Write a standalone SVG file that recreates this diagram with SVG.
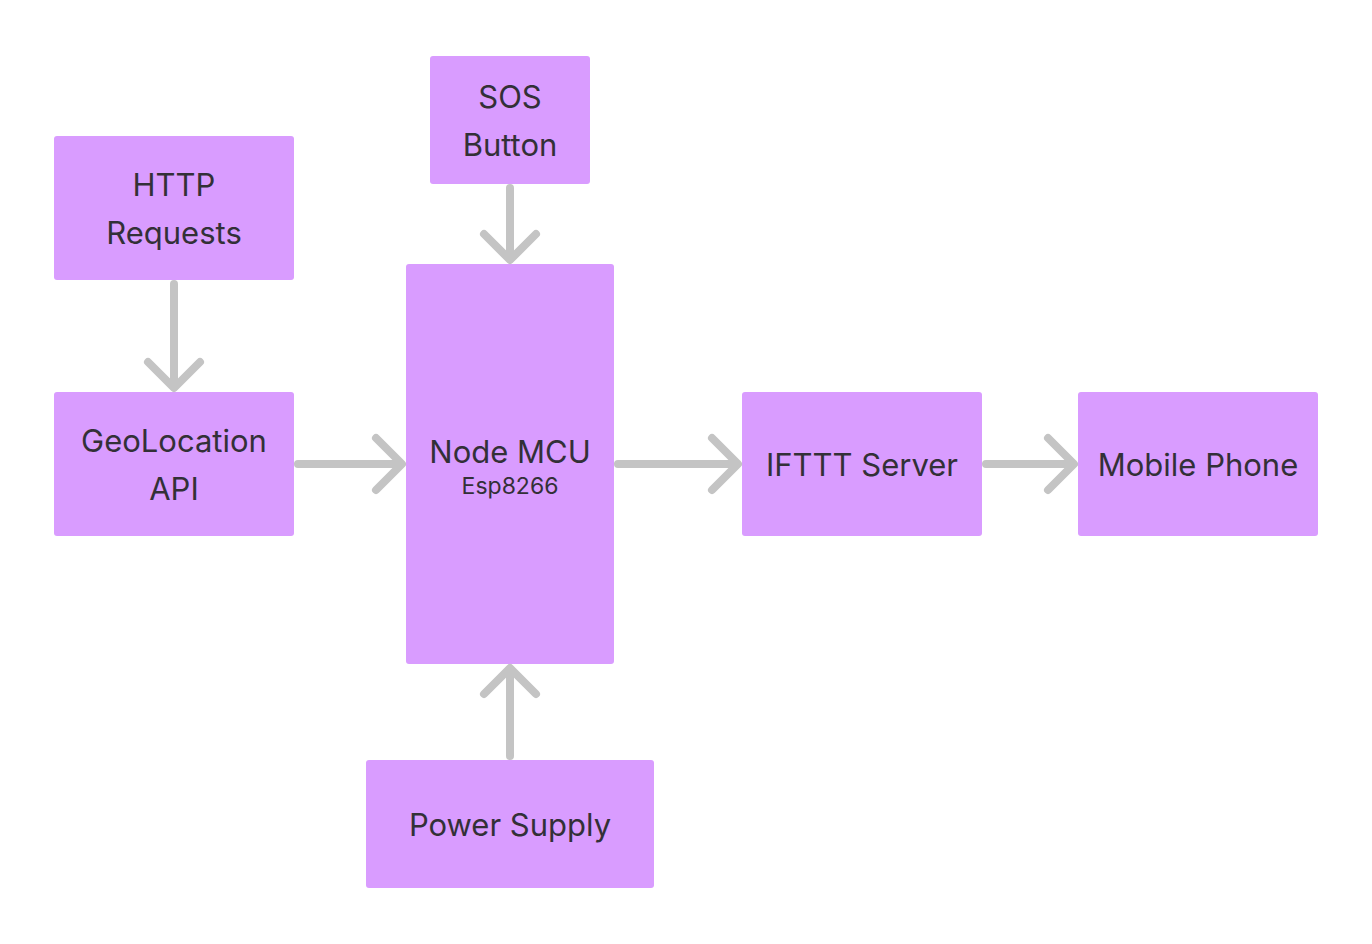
<svg xmlns="http://www.w3.org/2000/svg" width="1372" height="944" viewBox="0 0 1372 944">
<style>
.box{fill:#d99cff;}
.t{font-family:Inter,"Noto Sans",sans-serif;font-size:31px;fill:#333037;text-anchor:middle;}
.s{font-family:Inter,"Noto Sans",sans-serif;font-size:23px;fill:#333037;text-anchor:middle;}
.c{stroke:#c4c4c4;stroke-width:8;fill:none;stroke-linecap:round;stroke-linejoin:round;}
</style>
<rect width="1372" height="944" fill="#ffffff"/>
<g id="sos"><rect class="box" x="430" y="56" width="160" height="128" rx="3"/><text class="t" x="510" y="108">SOS</text><text class="t" x="510" y="156">Button</text></g>
<g id="http"><rect class="box" x="54" y="136" width="240" height="144" rx="3"/><text class="t" x="174" y="196">HTTP</text><text class="t" x="174" y="244">Requests</text></g>
<g id="geo"><rect class="box" x="54" y="392" width="240" height="144" rx="3"/><text class="t" x="174" y="452">GeoLocation</text><text class="t" x="174" y="500">API</text></g>
<g id="node"><rect class="box" x="406" y="264" width="208" height="400" rx="3"/><text class="t" x="510" y="463">Node MCU</text><text class="s" x="510" y="494">Esp8266</text></g>
<g id="ifttt"><rect class="box" x="742" y="392" width="240" height="144" rx="3"/><text class="t" x="862" y="476">IFTTT Server</text></g>
<g id="mobile"><rect class="box" x="1078" y="392" width="240" height="144" rx="3"/><text class="t" x="1198" y="476">Mobile Phone</text></g>
<g id="power"><rect class="box" x="366" y="760" width="288" height="128" rx="3"/><text class="t" x="510" y="836">Power Supply</text></g>
<g id="connectors">
<path class="c" d="M510 188V258M484 234L510 260L536 234"/>
<path class="c" d="M174 284V386M148 362L174 388L200 362"/>
<path class="c" d="M298 464H400M376 438L402 464L376 490"/>
<path class="c" d="M618 464H736M712 438L738 464L712 490"/>
<path class="c" d="M986 464H1072M1048 438L1074 464L1048 490"/>
<path class="c" d="M510 756V670M484 694L510 668L536 694"/>
</g>
</svg>
